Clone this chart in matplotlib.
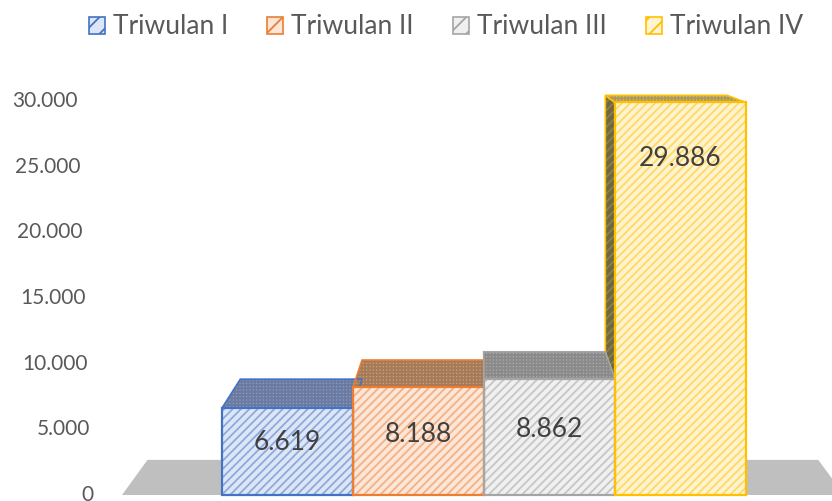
import numpy as np
import matplotlib
matplotlib.use("Agg")
import matplotlib.pyplot as plt
from matplotlib.patches import Polygon, Patch

plt.rcParams['font.family'] = ['Lato', 'DejaVu Sans']

# data
categories = ['Triwulan I', 'Triwulan II', 'Triwulan III', 'Triwulan IV']
values = [6619, 8188, 8862, 29886]
value_labels = ['6.619', '8.188', '8.862', '29.886']
yticks = [0, 5000, 10000, 15000, 20000, 25000, 30000]
ytick_labels = ['0', '5.000', '10.000', '15.000', '20.000', '25.000', '30.000']

# styles
edge_cols = ['#4472C4', '#ED7D31', '#A5A5A5', '#FFC000']
face_cols = ['#dde6f6', '#fce6d8', '#f0f0f0', '#fff4cf']
hatch_cols = ['#8eaadb', '#f4b183', '#c6c6c6', '#ffd966']
top_cols = ['#8898c0', '#c79c7a', '#a8a8a8', '#cdb874']
top_hatch = ['#6a7aa0', '#a47a58', '#8a8a8a', '#ad9a58']
label_drop = [34, 47, 51, 56]  # px below bar top (3d label placement)

W, H = 832, 501
fig = plt.figure(figsize=(W / 100, H / 100), dpi=100)
ax = fig.add_axes([122 / W, 6 / H, 710 / W, 394 / H])
ax.set_xlim(-1.263, -1.263 + 710 / 131)
ax.set_ylim(0, 30000)
ax.set_axis_off()

# perspective: vanishing point (display px) and depth factor
V = np.array([480.0, 499.0])
K = 0.0712


def back(xs, ys):
    pts = ax.transData.transform(np.column_stack([xs, ys]))
    b = pts + K * (V - pts)
    return ax.transData.inverted().transform(b)


def poly(pts, fc, ec, hatch=None, hc=None, z=1, lw=1.2):
    if hatch:
        ax.add_patch(Polygon(pts, closed=True, facecolor=fc, edgecolor=hc,
                             hatch=hatch, linewidth=0, zorder=z, clip_on=False))
        ax.add_patch(Polygon(pts, closed=True, facecolor='none', edgecolor=ec,
                             linewidth=lw, zorder=z + 0.1, clip_on=False))
    else:
        ax.add_patch(Polygon(pts, closed=True, facecolor=fc, edgecolor=ec,
                             linewidth=lw, zorder=z, clip_on=False))


# floor
xa, xb = -1.263, 4.25
fb = back([xb, xa], [0, 0])
poly([[xa, 0], [xb, 0], fb[0], fb[1]], '#bfbfbf', 'none', z=1, lw=0)

x = np.arange(len(values))
bw = 1.0
plt.rcParams['hatch.linewidth'] = 1.3

# left side face of last bar (visible right of the vanishing point)
i = len(values) - 1
x0 = x[i] - bw / 2
sb = back([x0, x0], [values[i], 0])
poly([[x0, 0], [x0, values[i]], sb[0], sb[1]], '#6f6642', edge_cols[i],
     hatch='////', hc='#8c7f48', z=2, lw=1.2)

# top faces
for i, v in enumerate(values):
    x0, x1 = x[i] - bw / 2, x[i] + bw / 2
    tb = back([x1, x0], [v, v])
    poly([[x0, v], [x1, v], tb[0], tb[1]], top_cols[i], edge_cols[i],
         hatch='+++++', hc=top_hatch[i], z=3, lw=1.2)

# front faces
ax.bar(x, values, width=bw, color=face_cols, edgecolor=hatch_cols,
       hatch='////', linewidth=0, zorder=4, clip_on=False)
ax.bar(x, values, width=bw, color='none', edgecolor=edge_cols,
       linewidth=1.6, zorder=4.5, clip_on=False)

# value labels
for i, v in enumerate(values):
    ax.annotate(value_labels[i], xy=(x[i], v), xytext=(0, -label_drop[i] * 0.72),
                textcoords='offset points', ha='center', va='center',
                fontsize=19, color='#404040', zorder=6)

# y tick labels (staggered along the back wall)
for t, lab in zip(yticks, ytick_labels):
    xr = 93 - 15 * t / 30000
    yd = ax.transData.transform((0, t))[1]
    fig.text(xr / W, yd / H, lab, ha='right', va='center', fontsize=15,
             color='#595959')

# legend
handles = [Patch(facecolor=face_cols[i], edgecolor=edge_cols[i], hatch='//',
                 linewidth=1.2) for i in range(len(categories))]
fig.legend(handles, categories, loc='center', bbox_to_anchor=(446 / W, 1 - 27 / H),
           ncol=4, frameon=False, fontsize=19, handlelength=0.6, handleheight=0.6,
           handletextpad=0.3, columnspacing=1.5, labelcolor='#595959')

fig.savefig('out.png', dpi=100)
